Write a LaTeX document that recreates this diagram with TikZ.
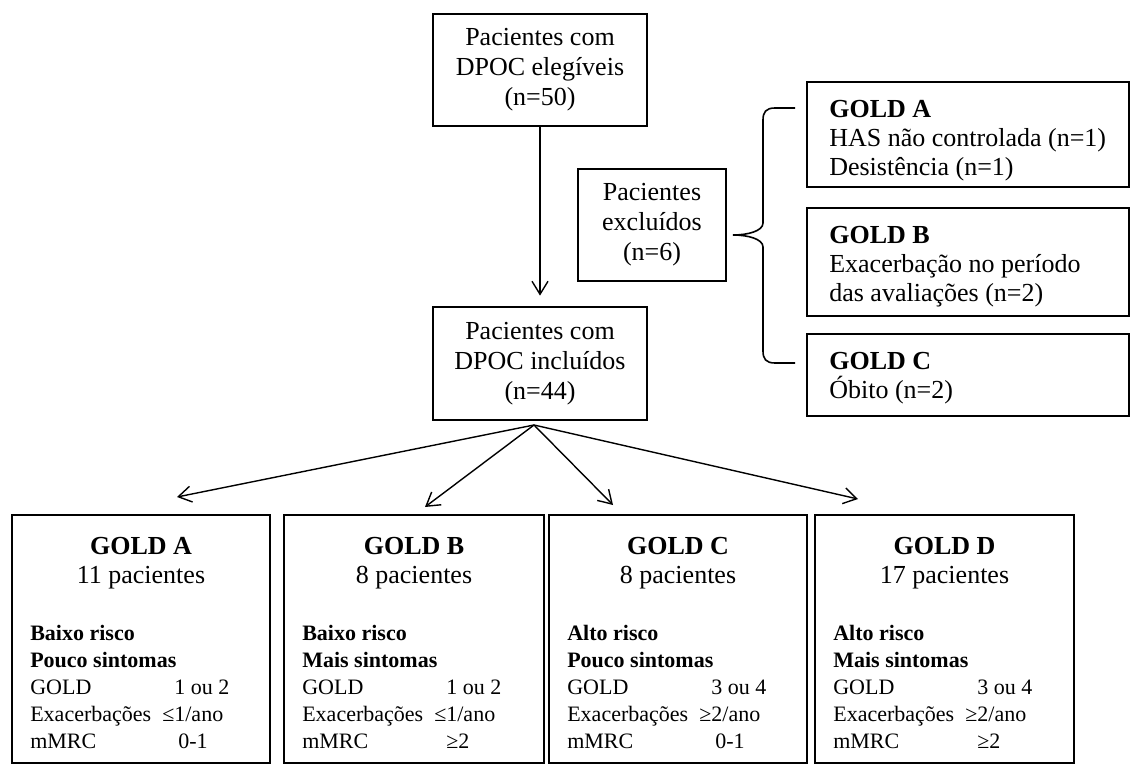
\documentclass[tikz,border=0pt]{standalone}
\usepackage{fontspec}
\setmainfont{Liberation Serif}
\usetikzlibrary{arrows.meta}
\newcommand{\val}[3][72pt]{\makebox[#1][l]{#2}#3}

\begin{document}
\begin{tikzpicture}[x=0.5pt,y=-0.5pt,->,>={Straight Barb[length=6.5pt,width=8pt]},
        line width=0.7pt,
        box/.style={draw,line width=1.4pt,inner sep=0pt,align=center,
            font=\fontsize{13}{15}\selectfont},
        side box/.style={draw,line width=1.4pt,minimum width=161pt},
        side text/.style={inner sep=0pt,anchor=north west,align=left,
            font=\fontsize{13}{14.5}\selectfont},
        gold box/.style={draw,line width=1.4pt,minimum height=124pt},
        gold title/.style={inner sep=0pt,align=center,font=\fontsize{13}{14.5}\selectfont},
        gold text/.style={inner sep=0pt,anchor=north west,align=left,
            font=\fontsize{11}{13.5}\selectfont}]

        \useasboundingbox (0,0) rectangle (1130,765);

        % Define vertices
        \node[box,minimum width=107pt,minimum height=56pt] (eleg) at (540,70)
            {Pacientes com\\DPOC elegíveis\\(n=50)};
        \node[box,minimum width=107pt,minimum height=56.5pt] (incl) at (540,363.5)
            {Pacientes com\\DPOC incluídos\\(n=44)};
        \node[box,minimum width=74pt,minimum height=56pt] (excl) at (652,225)
            {Pacientes\\excluídos\\(n=6)};

        \node[side box,minimum height=52.5pt] (xa) at (968,134.5) {};
        \node[side box,minimum height=54pt] (xb) at (968,262) {};
        \node[side box,minimum height=41pt] (xc) at (968,375) {};

        \node[side text] (xat) at ([shift={(11.5pt,-9.5pt)}]xa.north west)
            {\textbf{GOLD A}\\HAS não controlada (n=1)\\Desistência (n=1)};
        \node[side text] (xbt) at ([shift={(11.5pt,-9.5pt)}]xb.north west)
            {\textbf{GOLD B}\\Exacerbação no período\\das avaliações (n=2)};
        \node[side text] (xct) at ([shift={(11.5pt,-9.5pt)}]xc.north west)
            {\textbf{GOLD C}\\Óbito (n=2)};

        \node[gold box,minimum width=129pt] (ga) at (141,639) {};
        \node[gold box,minimum width=130pt] (gb) at (414,639) {};
        \node[gold box,minimum width=129pt] (gc) at (678,639) {};
        \node[gold box,minimum width=129.5pt] (gd) at (944.5,639) {};

        \node[gold title] (gat) at ([yshift=-25pt]ga.north) {\textbf{GOLD A}\\11 pacientes};
        \node[gold title] (gbt) at ([yshift=-25pt]gb.north) {\textbf{GOLD B}\\8 pacientes};
        \node[gold title] (gct) at ([yshift=-25pt]gc.north) {\textbf{GOLD C}\\8 pacientes};
        \node[gold title] (gdt) at ([yshift=-25pt]gd.north) {\textbf{GOLD D}\\17 pacientes};

        \node[gold text] (gad) at ([shift={(9.5pt,-55.5pt)}]ga.north west)
            {\textbf{Baixo risco}\\\textbf{Pouco sintomas}\\\val{GOLD}{1 ou 2}\\
             \val[66pt]{Exacerbações}{≤1/ano}\\\val[74pt]{mMRC}{0-1}};
        \node[gold text] (gbd) at ([shift={(9.5pt,-55.5pt)}]gb.north west)
            {\textbf{Baixo risco}\\\textbf{Mais sintomas}\\\val{GOLD}{1 ou 2}\\
             \val[66pt]{Exacerbações}{≤1/ano}\\\val{mMRC}{≥2}};
        \node[gold text] (gcd) at ([shift={(9.5pt,-55.5pt)}]gc.north west)
            {\textbf{Alto risco}\\\textbf{Pouco sintomas}\\\val{GOLD}{3 ou 4}\\
             \val[66pt]{Exacerbações}{≥2/ano}\\\val[74pt]{mMRC}{0-1}};
        \node[gold text] (gdd) at ([shift={(9.5pt,-55.5pt)}]gd.north west)
            {\textbf{Alto risco}\\\textbf{Mais sintomas}\\\val{GOLD}{3 ou 4}\\
             \val[66pt]{Exacerbações}{≥2/ano}\\\val{mMRC}{≥2}};

        \coordinate (split) at (534,425);
        \coordinate (tipA) at (177,497);
        \coordinate (tipB) at (425,507);
        \coordinate (tipC) at (613,505);
        \coordinate (tipD) at (858,499);
        \coordinate (bt) at (795,108);
        \coordinate (bb) at (795,363);

        % Draw edges
        \path (eleg) edge[shorten >=5pt] (incl);
        \path (split) edge (tipA) edge (tipB) edge (tipC) edge (tipD);

        % brace
        \draw[-,line width=0.8pt] (bt) -- (775,108) .. controls (766,108) and (763,112) .. (763,120)
            -- (763,223) .. controls (763,231) and (748,235) .. (733,235)
            .. controls (748,235) and (763,239) .. (763,247)
            -- (763,351) .. controls (763,359) and (766,363) .. (775,363) -- (bb);

\end{tikzpicture}
\end{document}
